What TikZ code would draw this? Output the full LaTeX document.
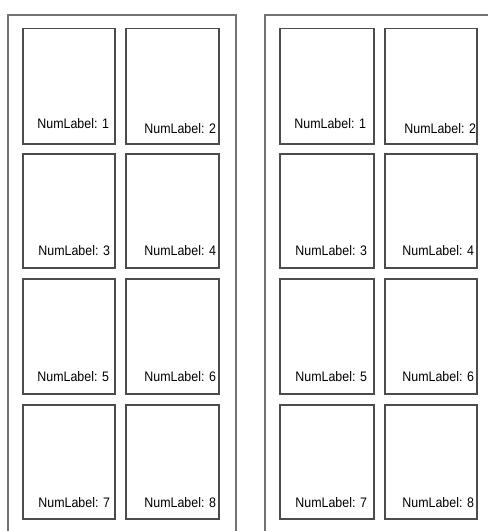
\documentclass[tikz,border=0pt]{standalone}
\usepackage{fontspec}
\setmainfont{Liberation Sans}
\newcommand\numlabtext[1]{\scalebox{0.9}[1]{NumLabel: #1}}
\begin{document}
\begin{tikzpicture}[x=1pt,y=-1pt,
  panel/.style={draw=black!55,line width=1.6pt,inner sep=0pt,outer sep=0pt},
  cell/.style={draw=black!70,line width=1.6pt,inner sep=0pt,outer sep=0pt},
  lab/.style={inner sep=0pt,outer sep=0pt,anchor=base east,font=\fontsize{13.8}{14}\selectfont,text=black}]
\useasboundingbox[fill=white] (0,0) rectangle (488,531);
\clip (0,0) rectangle (488,531);
% panels
\node[panel,minimum width=228pt,minimum height=530pt] (P1) at (122,279.7) {};
\node[panel,minimum width=235pt,minimum height=530pt] (P2) at (382.5,279.7) {};
% left panel cells
\node[cell,minimum width=92pt,minimum height=115.5pt] (A1) at (69,86.25) {};
\node[cell,minimum width=93pt,minimum height=115.5pt] (A2) at (172.5,86.25) {};
\node[cell,minimum width=92pt,minimum height=114pt] (A3) at (69,211) {};
\node[cell,minimum width=93pt,minimum height=114pt] (A4) at (172.5,211) {};
\node[cell,minimum width=92pt,minimum height=115pt] (A5) at (69,336.5) {};
\node[cell,minimum width=93pt,minimum height=115pt] (A6) at (172.5,336.5) {};
\node[cell,minimum width=92pt,minimum height=114pt] (A7) at (69,462) {};
\node[cell,minimum width=93pt,minimum height=114pt] (A8) at (172.5,462) {};
% right panel cells
\node[cell,minimum width=94pt,minimum height=115.5pt] (B1) at (327,86.25) {};
\node[cell,minimum width=92pt,minimum height=115.5pt] (B2) at (431,86.25) {};
\node[cell,minimum width=94pt,minimum height=114pt] (B3) at (327,211) {};
\node[cell,minimum width=92pt,minimum height=114pt] (B4) at (431,211) {};
\node[cell,minimum width=94pt,minimum height=115pt] (B5) at (327,336.5) {};
\node[cell,minimum width=92pt,minimum height=115pt] (B6) at (431,336.5) {};
\node[cell,minimum width=94pt,minimum height=114pt] (B7) at (327,462) {};
\node[cell,minimum width=92pt,minimum height=114pt] (B8) at (431,462) {};
% labels left
\node[lab] (a1) at ([xshift=-6pt,yshift=16pt]A1.south east) {\numlabtext{1}};
\node[lab] (a2) at ([xshift=-3pt,yshift=11pt]A2.south east) {\numlabtext{2}};
\node[lab] (a3) at ([xshift=-5pt,yshift=13pt]A3.south east) {\numlabtext{3}};
\node[lab] (a4) at ([xshift=-3pt,yshift=13pt]A4.south east) {\numlabtext{4}};
\node[lab] (a5) at ([xshift=-6pt,yshift=13pt]A5.south east) {\numlabtext{5}};
\node[lab] (a6) at ([xshift=-3pt,yshift=13pt]A6.south east) {\numlabtext{6}};
\node[lab] (a7) at ([xshift=-5pt,yshift=12pt]A7.south east) {\numlabtext{7}};
\node[lab] (a8) at ([xshift=-3pt,yshift=12pt]A8.south east) {\numlabtext{8}};
% labels right
\node[lab] (b1) at ([xshift=-8pt,yshift=16pt]B1.south east) {\numlabtext{1}};
\node[lab] (b2) at ([xshift=-1pt,yshift=11pt]B2.south east) {\numlabtext{2}};
\node[lab] (b3) at ([xshift=-7pt,yshift=13pt]B3.south east) {\numlabtext{3}};
\node[lab] (b4) at ([xshift=-3pt,yshift=13pt]B4.south east) {\numlabtext{4}};
\node[lab] (b5) at ([xshift=-7pt,yshift=13pt]B5.south east) {\numlabtext{5}};
\node[lab] (b6) at ([xshift=-3pt,yshift=13pt]B6.south east) {\numlabtext{6}};
\node[lab] (b7) at ([xshift=-7pt,yshift=12pt]B7.south east) {\numlabtext{7}};
\node[lab] (b8) at ([xshift=-3pt,yshift=12pt]B8.south east) {\numlabtext{8}};
\end{tikzpicture}
\end{document}
